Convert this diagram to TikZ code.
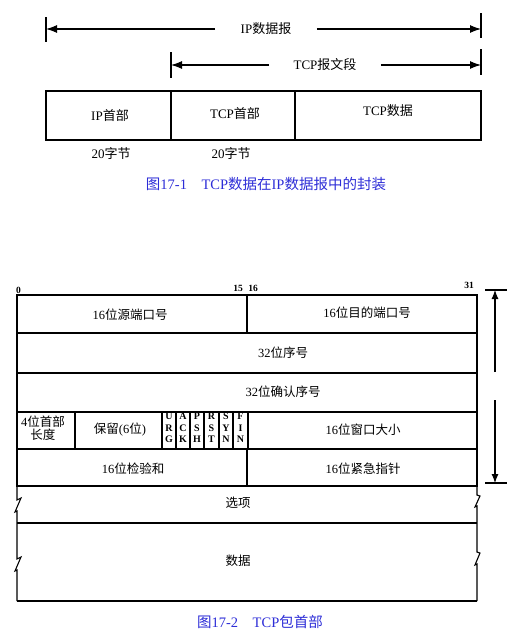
\documentclass[tikz,border=0pt]{standalone}
\usepackage{fontspec}
\setmainfont{Liberation Serif}
\newfontfamily\cjk{Noto Sans CJK SC}
\newcommand{\zh}[1]{{\cjk #1}}
\usetikzlibrary{arrows.meta}
\definecolor{capblue}{RGB}{45,45,215}
\begin{document}
\begin{tikzpicture}[x=1pt,y=-1pt,line width=1.1pt,
  lbl/.style={font=\fontsize{13}{15}\selectfont,inner sep=0pt},
  blbl/.style={font=\fontsize{12.5}{12.5}\selectfont,inner sep=0pt,align=center},
  captext/.style={font=\fontsize{14.5}{16}\selectfont,text=capblue,inner sep=0pt},
  bitno/.style={font=\bfseries\fontsize{9.5}{10}\selectfont,inner sep=0pt},
  flagtxt/.style={font=\bfseries\fontsize{10}{11.5}\selectfont,inner sep=0pt,align=center},
  arr/.style={-{Latex[length=11pt,width=8pt]}},
  varr/.style={-{Latex[length=9pt,width=7pt]}}]
\useasboundingbox (0,0) rectangle (510,632);

% ---------- Figure 17-1 ----------
\draw (46,17) -- (46,42);
\draw (481,13) -- (481,38);
\draw (171,52) -- (171,78);
\draw (481,49) -- (481,75);
\coordinate (ipl) at (46,29);
\coordinate (ipr) at (481,29);
\coordinate (tcpl) at (171,65);
\coordinate (tcpr) at (481,65);
\node[lbl,inner xsep=25pt] (ipd) at (266,29) {IP\zh{数据报}};
\node[lbl,inner xsep=24pt] (tseg) at (325,65) {TCP\zh{报文段}};
\draw[arr] (ipd) -- (ipl);
\draw[arr] (ipd) -- (ipr);
\draw[arr] (tseg) -- (tcpl);
\draw[arr] (tseg) -- (tcpr);

\draw (46,91) rectangle (481,140);
\draw (171,91) -- (171,140);
\draw (295,91) -- (295,140);
\node[lbl] (iph) at (110,116) {IP\zh{首部}};
\node[lbl] (tcph) at (235,114) {TCP\zh{首部}};
\node[lbl] (tcpd) at (388,111) {TCP\zh{数据}};
\node[lbl] (b1) at (111,154) {20\zh{字节}};
\node[lbl] (b2) at (231,154) {20\zh{字节}};
\node[captext] (cap1) at (266,184) {\zh{图}17-1\quad TCP\zh{数据在}IP\zh{数据报中的封装}};

% ---------- Figure 17-2 ----------
\node[bitno] (n0) at (18.5,290) {0};
\node[bitno] (n15) at (238,288) {15};
\node[bitno] (n16) at (253,288) {16};
\node[bitno] (n31) at (469,285) {31};

\draw (17,295) rectangle (477,486);
\draw (17,333) -- (477,333);
\draw (17,373) -- (477,373);
\draw (17,412) -- (477,412);
\draw (17,449) -- (477,449);
\draw (247,295) -- (247,333);
\draw (247,449) -- (247,486);
\draw (75,412) -- (75,449);
\draw (162,412) -- (162,449);
\draw (176,412) -- (176,449);
\draw (190,412) -- (190,449);
\draw (204,412) -- (204,449);
\draw (219,412) -- (219,449);
\draw (233,412) -- (233,449);
\draw (248,412) -- (248,449);

\draw (17,523) -- (477,523);
\draw (17,601) -- (477,601);
\draw (17,486) -- (17,500) -- (21,498) -- (15,512) -- (17,511) -- (17,559)
      -- (21,557) -- (15,571) -- (17,570) -- (17,601);
\draw (477,486) -- (477,495) -- (480,496) -- (475,507) -- (477,506) -- (477,552)
      -- (480,553) -- (475,565) -- (477,564) -- (477,601);

\node[blbl] (src) at (130,315) {16\zh{位源端口号}};
\node[blbl] (dst) at (367,313) {16\zh{位目的端口号}};
\node[blbl] (seq) at (283,353) {32\zh{位序号}};
\node[blbl] (ack) at (283,392) {32\zh{位确认序号}};
\node[blbl] (hl) at (43,428) {4\zh{位首部}\\\zh{长度}};
\node[blbl] (rsv) at (120,430) {\zh{保留}(6\zh{位})};
\node[flagtxt] (furg) at (169,428) {U\\R\\G};
\node[flagtxt] (fack) at (183,428) {A\\C\\K};
\node[flagtxt] (fpsh) at (197,428) {P\\S\\H};
\node[flagtxt] (frst) at (211.5,428) {R\\S\\T};
\node[flagtxt] (fsyn) at (226,428) {S\\Y\\N};
\node[flagtxt] (ffin) at (240.5,428) {F\\I\\N};
\node[blbl] (win) at (363,430) {16\zh{位窗口大小}};
\node[blbl] (chk) at (133,469) {16\zh{位检验和}};
\node[blbl] (urg) at (363,469) {16\zh{位紧急指针}};
\node[blbl] (opt) at (238,503) {\zh{选项}};
\node[blbl] (dat) at (238,561) {\zh{数据}};

\draw (485,290) -- (507,290);
\draw (485,483) -- (507,483);
\coordinate (vtop) at (495,290);
\coordinate (vbot) at (495,483);
\coordinate (vm1) at (495,372);
\coordinate (vm2) at (495,400);
\draw[varr] (vm1) -- (vtop);
\draw[varr] (vm2) -- (vbot);

\node[captext] (cap2) at (260,622) {\zh{图}17-2\quad TCP\zh{包首部}};
\end{tikzpicture}
\end{document}
